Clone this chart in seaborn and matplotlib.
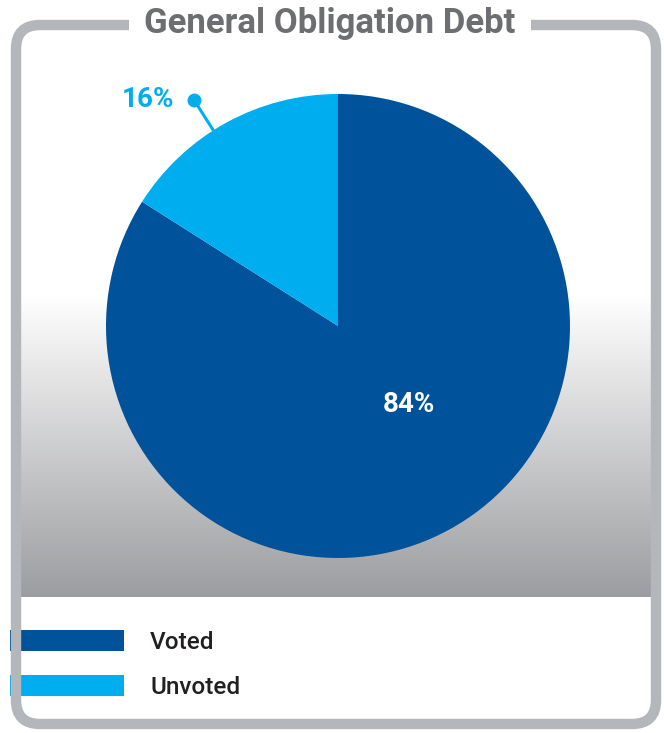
import numpy as np
import matplotlib
matplotlib.use("Agg")
import matplotlib.pyplot as plt
from matplotlib.patches import FancyBboxPatch, Patch
from matplotlib.colors import LinearSegmentedColormap
import seaborn as sns

# ---- data ----
categories = ["Voted", "Unvoted"]
shares = [84, 16]
labels_pct = ["84%", "16%"]
title = "General Obligation Debt"

colors = ["#00529b", "#00aeef"]

sns.set_theme(style="white")
plt.rcParams['font.family'] = ['Roboto', 'DejaVu Sans']

W, H = 664, 733
fig = plt.figure(figsize=(W / 100, H / 100), dpi=100)
ax = fig.add_axes([0, 0, 1, 1])

# gradient band
grad = np.linspace(0, 1, 256)[:, None]
cmap = LinearSegmentedColormap.from_list("g", ["#ffffff", "#9c9da0"])
ax.imshow(grad, cmap=cmap, aspect='auto', extent=(16, 656, 597, 295), zorder=0)

# pie
cx, cy, R = 338, 326, 232
wedges, _ = ax.pie(shares, colors=colors, startangle=270, counterclock=True,
                   center=(cx, cy), radius=R, frame=True,
                   wedgeprops=dict(linewidth=0))
ax.set_xlim(0, W)
ax.set_ylim(H, 0)
ax.set_aspect('equal')
ax.axis('off')

# 84% label
a = np.deg2rad(-48)
ax.text(cx + 106 * np.cos(a), cy - 106 * np.sin(a), labels_pct[0], color="white",
        fontsize=20, fontweight='bold', ha='center', va='center', zorder=5)

# 16% leader
b = np.deg2rad(122.5)
x0, y0 = cx + 228 * np.cos(b), cy - 228 * np.sin(b)
x1, y1 = cx + 268 * np.cos(b), cy - 268 * np.sin(b)
ax.plot([x0, x1], [y0, y1], color=colors[1], lw=2.2, solid_capstyle='butt', zorder=5)
ax.plot([x1], [y1], 'o', color=colors[1], ms=9, zorder=6)
ax.text(x1 - 20, y1, labels_pct[1], color=colors[1], fontsize=20, fontweight='bold',
        ha='right', va='center', zorder=5)

# border
border = FancyBboxPatch((16, 25), 640, 699, boxstyle="round,pad=0,rounding_size=24",
                        fill=False, edgecolor="#b3b7bb", linewidth=7.5, zorder=8)
ax.add_patch(border)

# title
ax.text(330, 24, title, color="#6d6e71", fontsize=25, fontweight='bold',
        ha='center', va='center', zorder=10,
        bbox=dict(facecolor='white', edgecolor='none', boxstyle='square,pad=0.45'))

# legend
handles = [Patch(facecolor=c, edgecolor='none') for c in colors]
leg = ax.legend(handles, categories, loc='upper left', bbox_to_anchor=(10 / W, 1 - 630 / H),
                bbox_transform=fig.transFigure, frameon=False,
                prop=dict(family=['Roboto', 'DejaVu Sans'], size=17.5, weight='medium'),
                handlelength=4.7, handleheight=0.95, handletextpad=1.07,
                labelspacing=0.86, borderpad=0, borderaxespad=0)
for t in leg.get_texts():
    t.set_color("#231f20")
leg.set_zorder(7)

fig.savefig("out.png", dpi=100)
